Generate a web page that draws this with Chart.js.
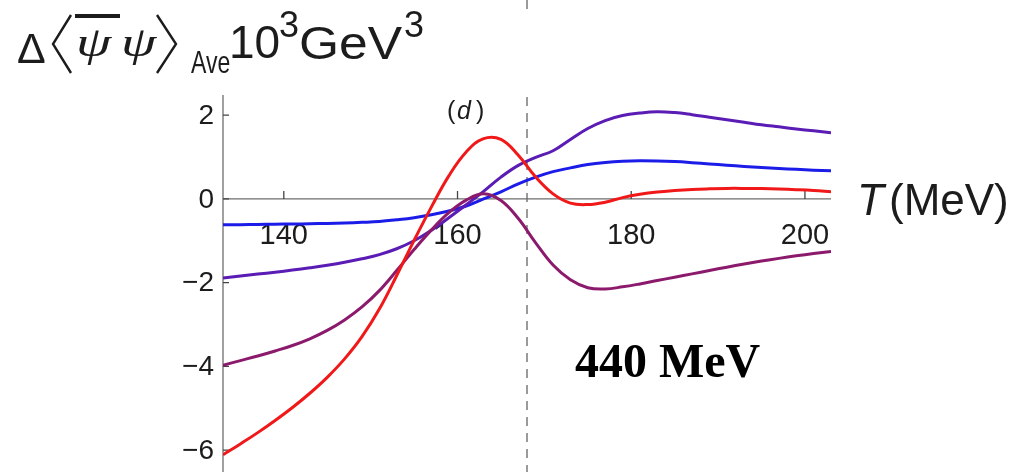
<!DOCTYPE html>
<html>
<head>
<meta charset="utf-8">
<script src="https://cdn.jsdelivr.net/npm/chart.js@4.4.1/dist/chart.umd.min.js"></script>
<style>
  html, body { margin: 0; padding: 0; background: #fff; }
  #wrap { width: 1014px; height: 472px; }
</style>
</head>
<body>
<div id="wrap"><canvas id="chart" width="1014" height="472"></canvas></div>
<script>
// ==================== DATOS ====================
const tempMeV = [133, 135, 137, 139, 141, 143, 145, 147, 149, 151, 153, 155, 157, 159, 161, 163, 165, 167,
    169, 171, 173, 175, 177, 179, 181, 183, 185, 187, 189, 191, 193, 195, 197, 199, 201, 203];

const blueVals = [-0.62, -0.615, -0.61, -0.605, -0.60, -0.595, -0.585, -0.575, -0.56, -0.54, -0.50, -0.45, -0.38, -0.29, -0.17, 0.00, 0.17, 0.36,
    0.52, 0.65, 0.74, 0.82, 0.87, 0.90, 0.91, 0.905, 0.89, 0.865, 0.835, 0.805, 0.775, 0.75, 0.725, 0.705, 0.685, 0.67];

const purpleVals = [-1.89, -1.84, -1.795, -1.75, -1.70, -1.645, -1.585, -1.515, -1.43, -1.33, -1.19, -1.00, -0.75, -0.45, -0.14, 0.18, 0.52, 0.80,
    0.99, 1.15, 1.42, 1.68, 1.87, 1.99, 2.05, 2.08, 2.06, 2.01, 1.95, 1.89, 1.83, 1.77, 1.72, 1.67, 1.625, 1.58];

const magentaVals = [-3.97, -3.86, -3.75, -3.63, -3.50, -3.34, -3.14, -2.89, -2.58, -2.19, -1.71, -1.21, -0.74, -0.33, -0.03, 0.12, -0.04, -0.47,
    -1.05, -1.58, -1.93, -2.12, -2.15, -2.10, -2.03, -1.95, -1.87, -1.79, -1.71, -1.63, -1.555, -1.485, -1.42, -1.36, -1.305, -1.255];

const redVals = [-6.11, -5.85, -5.58, -5.29, -4.98, -4.64, -4.26, -3.82, -3.29, -2.63, -1.83, -0.99, -0.19, 0.55, 1.12, 1.44, 1.42, 1.04,
    0.52, 0.12, -0.10, -0.135, -0.08, 0.03, 0.11, 0.165, 0.20, 0.225, 0.24, 0.25, 0.25, 0.245, 0.235, 0.22, 0.20, 0.17];

const xTicks = [140, 160, 180, 200];
const xTickLabels = ['140', '160', '180', '200'];
const yTicks = [2, 0, -2, -4, -6];
const yTickLabels = ['2', '0', '\u22122', '\u22124', '\u22126'];
const criticalT = 168;

// ==================== CONFIG ====================
const SANS = '"Liberation Sans", Arial, sans-serif';
const SERIF = '"Liberation Serif", "Times New Roman", serif';
const INK = '#1c1c1c';
const AXIS = '#6e6e6e';

function toPoints(vals) {
    return tempMeV.map((t, i) => ({ x: t, y: vals[i] }));
}

function line(label, vals, color, order) {
    return {
        label: label,
        data: toPoints(vals),
        borderColor: color,
        borderWidth: 3,
        pointRadius: 0,
        fill: false,
        tension: 0.4,
        order: order
    };
}

// texto con escala horizontal
function text(ctx, str, x, y, font, sx) {
    ctx.save();
    ctx.font = font;
    ctx.translate(x, y);
    ctx.scale(sx || 1, 1);
    ctx.fillText(str, 0, 0);
    ctx.restore();
}

// ejes estilo Mathematica, cruzando en y = 0
const axesPlugin = {
    id: 'mathAxes',
    beforeDatasetsDraw(chart) {
        const { ctx, chartArea, scales } = chart;
        const xs = scales.x, ys = scales.y;
        const y0 = ys.getPixelForValue(0);
        ctx.save();

        // linea vertical discontinua (y el resto del panel de arriba)
        const xc = xs.getPixelForValue(criticalT);
        ctx.strokeStyle = '#9a9a9a';
        ctx.lineWidth = 2;
        ctx.setLineDash([9, 7]);
        ctx.beginPath();
        ctx.moveTo(xc, chartArea.top + 2);
        ctx.lineTo(xc, chartArea.bottom);
        ctx.stroke();
        ctx.setLineDash([]);
        ctx.beginPath();
        ctx.moveTo(xc, 0);
        ctx.lineTo(xc, 9);
        ctx.stroke();

        // ejes
        ctx.strokeStyle = AXIS;
        ctx.lineWidth = 1.3;
        ctx.beginPath();
        ctx.moveTo(chartArea.left, chartArea.top);
        ctx.lineTo(chartArea.left, chartArea.bottom);
        ctx.moveTo(chartArea.left, y0);
        ctx.lineTo(chartArea.right, y0);
        ctx.stroke();

        // ticks
        ctx.strokeStyle = '#444';
        ctx.beginPath();
        xTicks.forEach(v => {
            const px = xs.getPixelForValue(v);
            ctx.moveTo(px, y0);
            ctx.lineTo(px, y0 - 8);
        });
        yTicks.forEach(v => {
            const py = ys.getPixelForValue(v);
            ctx.moveTo(chartArea.left, py);
            ctx.lineTo(chartArea.left + 6, py);
        });
        ctx.stroke();

        // etiquetas
        ctx.fillStyle = INK;
        ctx.font = '29px ' + SANS;
        ctx.textAlign = 'center';
        ctx.textBaseline = 'alphabetic';
        xTicks.forEach((v, i) => {
            ctx.fillText(xTickLabels[i], xs.getPixelForValue(v), y0 + 45);
        });
        ctx.font = '28px ' + SANS;
        ctx.textAlign = 'right';
        ctx.textBaseline = 'middle';
        yTicks.forEach((v, i) => {
            ctx.fillText(yTickLabels[i], chartArea.left - 9, ys.getPixelForValue(v) + 1);
        });
        ctx.restore();
    },
    afterDraw(chart) {
        const { ctx, scales } = chart;
        const y0 = scales.y.getPixelForValue(0);
        ctx.save();
        ctx.fillStyle = INK;
        ctx.strokeStyle = INK;
        ctx.textAlign = 'left';
        ctx.textBaseline = 'alphabetic';

        // titulo del eje y
        text(ctx, '\u0394', 17, 63, '43px ' + SANS);
        ctx.lineWidth = 2.4;
        ctx.beginPath();
        ctx.moveTo(71, 15); ctx.lineTo(53, 44); ctx.lineTo(71, 73);
        ctx.moveTo(157, 15); ctx.lineTo(176, 44); ctx.lineTo(157, 73);
        ctx.stroke();
        text(ctx, '\u03c8', 76, 56, 'italic 42px ' + SERIF, 1.35);
        text(ctx, '\u03c8', 121, 56, 'italic 42px ' + SERIF, 1.35);
        ctx.fillRect(75, 14, 45, 4);
        text(ctx, 'Ave', 191, 73, '32px ' + SANS, 0.72);
        text(ctx, '10', 229, 58, '46px ' + SANS);
        text(ctx, 'GeV', 299, 59, '46px ' + SANS, 1.12);
        text(ctx, '3', 279, 37, '36px ' + SANS);
        text(ctx, '3', 404, 37, '36px ' + SANS);

        // titulo del eje x
        text(ctx, 'T', 857, y0 + 16, 'italic 44px ' + SANS);
        text(ctx, '(MeV)', 889, y0 + 16, '44px ' + SANS);

        // etiqueta del panel
        text(ctx, '(', 447, 119, '25px ' + SANS);
        text(ctx, 'd', 457, 119, 'italic 25px ' + SANS);
        text(ctx, ')', 476, 119, '25px ' + SANS);

        // anotacion
        ctx.fillStyle = '#000';
        text(ctx, '440 MeV', 575, 377, 'bold 48px ' + SERIF);
        ctx.restore();
    }
};

// ==================== CHART ====================
const ctx = document.getElementById('chart').getContext('2d');

const chart = new Chart(ctx, {
    type: 'line',
    data: {
        datasets: [
            line('blue', blueVals, '#1c1ce8', 4),
            line('purple', purpleVals, '#5a1cb4', 3),
            line('magenta', magentaVals, '#8c1a6c', 2),
            line('red', redVals, '#f01818', 1)
        ]
    },
    options: {
        animation: false,
        responsive: false,
        devicePixelRatio: 1,
        layout: { padding: { left: 223, right: 183, top: 95, bottom: 0 } },
        plugins: { legend: { display: false }, tooltip: { enabled: false } },
        scales: {
            x: { type: 'linear', min: 133, max: 203, display: false },
            y: { min: -6.52, max: 2.48, display: false }
        }
    },
    plugins: [axesPlugin]
});
</script>
</body>
</html>
